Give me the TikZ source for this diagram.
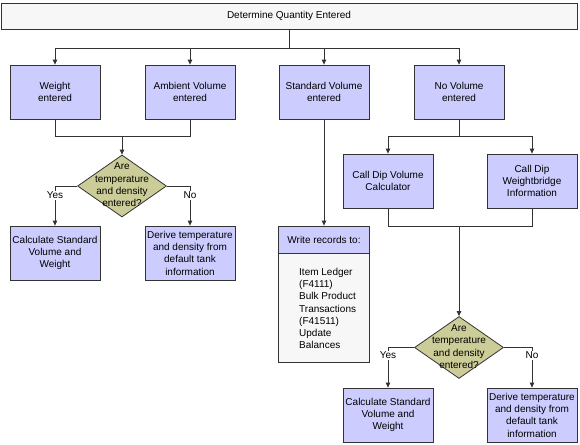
\documentclass[tikz,border=0pt]{standalone}
\usepackage{fontspec}
\setmainfont{Liberation Sans}
\usetikzlibrary{arrows.meta,shapes.geometric}
\definecolor{boxfill}{HTML}{CCCCFF}
\definecolor{decfill}{HTML}{CCCC99}
\definecolor{lightfill}{HTML}{F7F7F7}
\definecolor{linecol}{HTML}{333333}
\begin{document}
\begin{tikzpicture}[x=1pt,y=-1pt,
  every node/.style={font=\fontsize{10}{12.3}\selectfont, text=black},
  box/.style={draw=linecol, fill=boxfill, minimum width=90pt, minimum height=54pt, align=center, inner sep=1pt, line width=0.8pt},
  topbox/.style={draw=linecol, fill=lightfill, minimum width=576pt, minimum height=26pt, inner sep=1pt, line width=0.8pt},
  hdrbox/.style={draw=linecol, fill=boxfill, minimum width=91pt, minimum height=27pt, inner sep=1pt, line width=0.8pt},
  bodybox/.style={draw=linecol, fill=lightfill, minimum width=91pt, minimum height=109pt, inner sep=0pt, line width=0.8pt},
  dec/.style={diamond, draw=linecol, fill=decfill, minimum width=89pt, minimum height=62pt, inner sep=0pt, line width=0.8pt},
  dectext/.style={align=center, inner sep=0pt},
  conn/.style={draw=linecol, line width=0.8pt},
  arr/.style={conn, -{Triangle[length=5pt,width=4.5pt]}},
  lbl/.style={fill=white, inner sep=1pt}
]
\useasboundingbox (0,0) rectangle (580,444);

\node[topbox] (top) at (289,16) {Determine Quantity Entered};

\node[box] (weight) at (55,92) {Weight\\entered};
\node[box] (ambient) at (190,92) {Ambient Volume\\entered};
\node[box] (stdvol) at (324,92) {Standard Volume\\entered};
\node[box] (novol) at (459,92) {No Volume\\entered};

\coordinate (j1) at (289,48);
\draw[conn] (top.south) -- (j1);
\draw[arr] (j1) -| (weight.north);
\draw[arr] (j1) -| (ambient.north);
\draw[arr] (j1) -| (stdvol.north);
\draw[arr] (j1) -| (novol.north);

\node[dec] (d1) at (122,186) {};
\node[dectext] (d1t) at (122,185) {Are\\temperature\\and density\\entered?};

\coordinate (j2) at (122,136);
\draw[conn] (weight.south) |- (j2);
\draw[conn] (ambient.south) |- (j2);
\draw[arr] (j2) -- (d1.north);

\node[box] (calc1) at (55,253) {Calculate Standard\\Volume and\\Weight};
\node[box] (derive1) at (190,253) {Derive temperature\\and density from\\default tank\\information};

\draw[arr] (d1.west) -| node[lbl, pos=0.615] {Yes} (calc1.north);
\draw[arr] (d1.east) -| node[lbl, pos=0.615] {No} (derive1.north);

\node[hdrbox] (hdr) at (324,239.5) {Write records to:};
\node[bodybox] (body) at (324,307.5) {};
\node[align=left, anchor=west, inner sep=0pt] (bodytext) at (299,308.5) {Item Ledger\\(F4111)\\Bulk Product\\Transactions\\(F41511)\\Update\\Balances};
\draw[arr] (stdvol.south) -- (hdr.north);

\node[box] (cdv) at (388,181) {Call Dip Volume\\Calculator};
\node[box] (cdw) at (532,181) {Call Dip\\Weightbridge\\Information};

\coordinate (j3) at (459,136);
\draw[conn] (novol.south) -- (j3);
\draw[arr] (j3) -| (cdv.north);
\draw[arr] (j3) -| (cdw.north);

\node[dec] (d2) at (459,347.5) {};
\node[dectext] (d2t) at (459,346.5) {Are\\temperature\\and density\\entered?};

\coordinate (j4) at (459,226);
\draw[conn] (cdv.south) |- (j4);
\draw[conn] (cdw.south) |- (j4);
\draw[arr] (j4) -- (d2.north);

\node[box] (calc2) at (388,415) {Calculate Standard\\Volume and\\Weight};
\node[box] (derive2) at (532,415) {Derive temperature\\and density from\\default tank\\information};

\draw[arr] (d2.west) -| node[lbl, pos=0.6] {Yes} (calc2.north);
\draw[arr] (d2.east) -| node[lbl, pos=0.6] {No} (derive2.north);
\end{tikzpicture}
\end{document}
